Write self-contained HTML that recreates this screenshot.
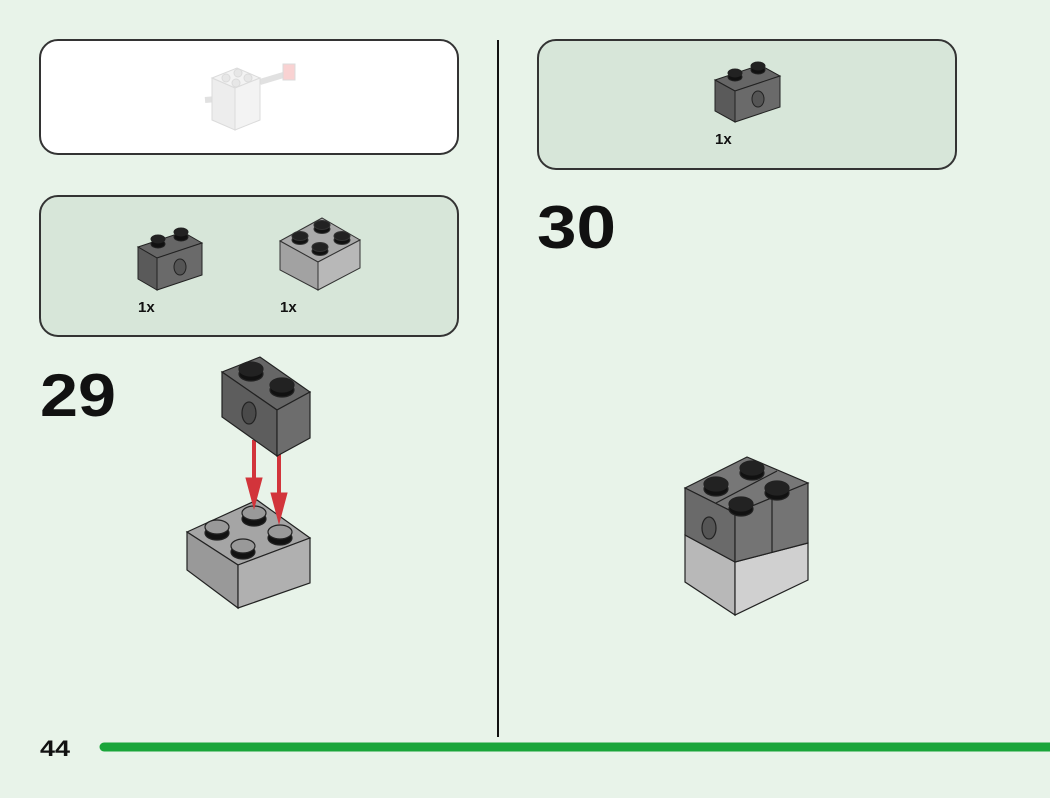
<!DOCTYPE html>
<html><head><style>
html,body{margin:0;padding:0;background:#e8f3e9;}
body{width:1050px;height:793px;overflow:hidden;font-family:"Liberation Sans",sans-serif;}
</style></head><body>
<svg width="1050" height="793" viewBox="0 0 1050 793" xmlns="http://www.w3.org/2000/svg">
<rect width="1050" height="793" fill="#e8f3e9"/>
<rect x="40" y="40" width="418" height="114" rx="18" fill="#ffffff" stroke="#333" stroke-width="2"/>
<rect x="40" y="196" width="418" height="140" rx="18" fill="#d7e6d9" stroke="#333" stroke-width="2"/>
<rect x="538" y="40" width="418" height="129" rx="18" fill="#d7e6d9" stroke="#333" stroke-width="2"/>
<line x1="498" y1="40" x2="498" y2="737" stroke="#111" stroke-width="2"/>
<line x1="104" y1="747" x2="1050" y2="747" stroke="#1aa53a" stroke-width="9" stroke-linecap="round"/>
<text x="40" y="756" font-size="22" font-weight="bold" fill="#111" textLength="30" lengthAdjust="spacingAndGlyphs">44</text>
<text x="40" y="416" font-size="60" font-weight="bold" fill="#111" textLength="76" lengthAdjust="spacingAndGlyphs">29</text>
<text x="537" y="248" font-size="60" font-weight="bold" fill="#111" textLength="79" lengthAdjust="spacingAndGlyphs">30</text>

<g opacity="0.35" stroke="#999" stroke-width="1">
<line x1="205" y1="100" x2="230" y2="98" stroke="#aaa" stroke-width="6"/>
<line x1="260" y1="82" x2="290" y2="73" stroke="#aaa" stroke-width="6"/>
<rect x="283" y="64" width="12" height="16" fill="#f08080"/>
<polygon points="212,78 237,68 260,78 235,88" fill="#ddd"/>
<polygon points="212,78 235,88 235,130 212,120" fill="#ccc"/>
<polygon points="235,88 260,78 260,120 235,130" fill="#ddd"/>
<circle cx="226" cy="78" r="4" fill="#bbb"/><circle cx="238" cy="73" r="4" fill="#bbb"/>
<circle cx="236" cy="83" r="4" fill="#bbb"/><circle cx="248" cy="78" r="4" fill="#bbb"/>
</g>

<g stroke="#222" stroke-width="1">
<polygon points="138,247 183,232 202,243 157,258" fill="#666"/>
<polygon points="138,247 157,258 157,290 138,279" fill="#5a5a5a"/>
<polygon points="157,258 202,243 202,275 157,290" fill="#6a6a6a"/>
<ellipse cx="180" cy="267" rx="6" ry="8" fill="#555"/>
<ellipse cx="158" cy="244" rx="7" ry="4" fill="#111"/><ellipse cx="158" cy="239" rx="7" ry="4" fill="#222"/>
<ellipse cx="181" cy="237" rx="7" ry="4" fill="#111"/><ellipse cx="181" cy="232" rx="7" ry="4" fill="#222"/>
</g>
<text x="138" y="312" font-size="15" font-weight="bold" fill="#111">1x</text>

<g stroke="#333" stroke-width="1">
<polygon points="280,241 322,218 360,240 318,262" fill="#aaa"/>
<polygon points="280,241 318,262 318,290 280,270" fill="#a2a2a2"/>
<polygon points="318,262 360,240 360,268 318,290" fill="#b8b8b8"/>
<ellipse cx="300" cy="240" rx="8" ry="4.5" fill="#111"/><ellipse cx="300" cy="236" rx="8" ry="4.5" fill="#222"/>
<ellipse cx="322" cy="229" rx="8" ry="4.5" fill="#111"/><ellipse cx="322" cy="225" rx="8" ry="4.5" fill="#222"/>
<ellipse cx="320" cy="251" rx="8" ry="4.5" fill="#111"/><ellipse cx="320" cy="247" rx="8" ry="4.5" fill="#222"/>
<ellipse cx="342" cy="240" rx="8" ry="4.5" fill="#111"/><ellipse cx="342" cy="236" rx="8" ry="4.5" fill="#222"/>
</g>
<text x="280" y="312" font-size="15" font-weight="bold" fill="#111">1x</text>

<g stroke="#222" stroke-width="1">
<polygon points="715,80 760,65 780,76 735,91" fill="#666"/>
<polygon points="715,80 735,91 735,122 715,111" fill="#5a5a5a"/>
<polygon points="735,91 780,76 780,107 735,122" fill="#6a6a6a"/>
<ellipse cx="758" cy="99" rx="6" ry="8" fill="#555"/>
<ellipse cx="735" cy="77" rx="7" ry="4" fill="#111"/><ellipse cx="735" cy="73" rx="7" ry="4" fill="#222"/>
<ellipse cx="758" cy="70" rx="7" ry="4" fill="#111"/><ellipse cx="758" cy="66" rx="7" ry="4" fill="#222"/>
</g>
<text x="715" y="144" font-size="15" font-weight="bold" fill="#111">1x</text>

<g stroke="#222" stroke-width="1.2">
<polygon points="187,532 257,500 310,538 238,565" fill="#a5a5a5"/>
<polygon points="187,532 238,565 238,608 187,570" fill="#999"/>
<polygon points="238,565 310,538 310,583 238,608" fill="#b0b0b0"/>
<ellipse cx="217" cy="533" rx="12" ry="7" fill="#111"/><ellipse cx="217" cy="527" rx="12" ry="7" fill="#999"/>
<ellipse cx="254" cy="519" rx="12" ry="7" fill="#111"/><ellipse cx="254" cy="513" rx="12" ry="7" fill="#999"/>
<ellipse cx="243" cy="552" rx="12" ry="7" fill="#111"/><ellipse cx="243" cy="546" rx="12" ry="7" fill="#999"/>
<ellipse cx="280" cy="538" rx="12" ry="7" fill="#111"/><ellipse cx="280" cy="532" rx="12" ry="7" fill="#999"/>
</g>
<g fill="#d2343b" stroke="#d2343b">
<line x1="254" y1="440" x2="254" y2="480" stroke-width="4"/>
<polygon points="246,478 262,478 254,508"/>
<line x1="279" y1="452" x2="279" y2="495" stroke-width="4"/>
<polygon points="271,493 287,493 279,523"/>
</g>
<g stroke="#222" stroke-width="1.2">
<polygon points="222,372 260,357 310,392 277,410" fill="#666"/>
<polygon points="222,372 277,410 277,456 222,417" fill="#5d5d5d"/>
<polygon points="277,410 310,392 310,438 277,456" fill="#6d6d6d"/>
<ellipse cx="249" cy="413" rx="7" ry="11" fill="#4a4a4a"/>
<ellipse cx="251" cy="374" rx="12" ry="7" fill="#111"/><ellipse cx="251" cy="369" rx="12" ry="7" fill="#222"/>
<ellipse cx="282" cy="390" rx="12" ry="7" fill="#111"/><ellipse cx="282" cy="385" rx="12" ry="7" fill="#222"/>
</g>

<g stroke="#222" stroke-width="1.2">
<polygon points="685,535 735,562 735,615 685,582" fill="#b8b8b8"/>
<polygon points="735,562 808,543 808,580 735,615" fill="#d0d0d0"/>
<polygon points="685,488 747,457 808,483 735,513" fill="#777"/>
<polygon points="685,488 735,513 735,562 685,535" fill="#6a6a6a"/>
<polygon points="735,513 808,483 808,543 735,562" fill="#747474"/>
<line x1="772" y1="498" x2="772" y2="552"/>
<line x1="716" y1="503" x2="777" y2="471"/>
<ellipse cx="709" cy="528" rx="7" ry="11" fill="#555"/>
<ellipse cx="716" cy="489" rx="12" ry="7" fill="#111"/><ellipse cx="716" cy="484" rx="12" ry="7" fill="#222"/>
<ellipse cx="752" cy="473" rx="12" ry="7" fill="#111"/><ellipse cx="752" cy="468" rx="12" ry="7" fill="#222"/>
<ellipse cx="741" cy="509" rx="12" ry="7" fill="#111"/><ellipse cx="741" cy="504" rx="12" ry="7" fill="#222"/>
<ellipse cx="777" cy="493" rx="12" ry="7" fill="#111"/><ellipse cx="777" cy="488" rx="12" ry="7" fill="#222"/>
</g>
</svg>
</body></html>
